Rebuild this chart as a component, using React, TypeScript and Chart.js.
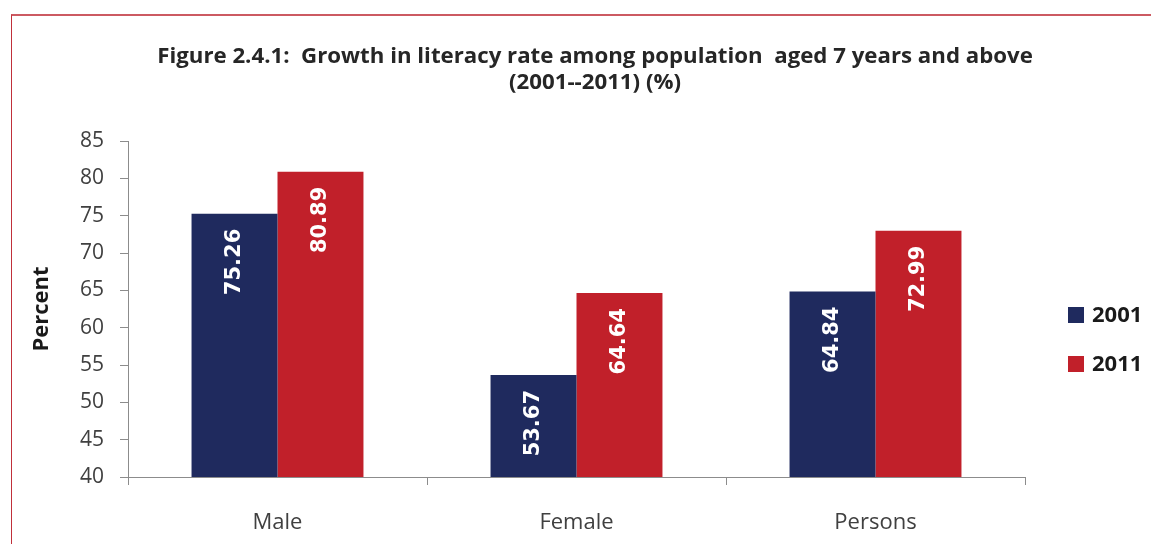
import React, { useEffect, useRef } from "react";
import { Chart, registerables } from "chart.js";

Chart.register(...registerables);

const categories = ["Male", "Female", "Persons"];
const seriesNames = ["2001", "2011"];
const values2001 = [75.26, 53.67, 64.84];
const values2011 = [80.89, 64.64, 72.99];
const seriesColors = ["#1F2A5E", "#C1202A"];
const yMin = 40;
const yMax = 85;
const yStep = 5;
const titleLines = [
  "Figure 2.4.1:  Growth in literacy rate among population  aged 7 years and above",
  "(2001--2011) (%)",
];
const yAxisTitle = "Percent";

const FONT = "'Open Sans', 'Liberation Sans', sans-serif";

const titlePlugin = {
  id: "customTitle",
  afterDraw(chart: any) {
    const ctx = chart.ctx;
    ctx.save();
    ctx.fillStyle = "#262626";
    ctx.textAlign = "center";
    ctx.textBaseline = "alphabetic";
    let size = 20;
    ctx.font = `bold ${size}px ${FONT}`;
    const w = ctx.measureText(titleLines[0]).width;
    size = Math.max(17, Math.min(23, (size * 876) / w));
    ctx.font = `bold ${size}px ${FONT}`;
    ctx.fillText(titleLines[0], 595, 63);
    ctx.fillText(titleLines[1], 595, 89);
    ctx.restore();
  },
};

const legendPlugin = {
  id: "customLegend",
  afterDraw(chart: any) {
    const ctx = chart.ctx;
    ctx.save();
    const ys = [315, 364];
    chart.data.datasets.forEach((ds: any, i: number) => {
      ctx.fillStyle = ds.backgroundColor;
      ctx.fillRect(1068, ys[i] - 8, 16, 16);
      ctx.fillStyle = "#1a1a1a";
      ctx.font = `bold 22px ${FONT}`;
      ctx.textAlign = "left";
      ctx.textBaseline = "middle";
      ctx.fillText(ds.label, 1092, ys[i] + 1);
    });
    ctx.restore();
  },
};

const valueLabelPlugin = {
  id: "valueLabels",
  afterDatasetsDraw(chart: any) {
    const ctx = chart.ctx;
    ctx.save();
    ctx.fillStyle = "#ffffff";
    ctx.font = `bold 21px 'DejaVu Sans', sans-serif`;
    ctx.textAlign = "right";
    ctx.textBaseline = "middle";
    chart.data.datasets.forEach((ds: any, di: number) => {
      const meta = chart.getDatasetMeta(di);
      meta.data.forEach((bar: any, i: number) => {
        ctx.save();
        ctx.translate(bar.x, bar.y + 15);
        ctx.rotate(-Math.PI / 2);
        ctx.fillText(Number(ds.data[i]).toFixed(2), 0, 0);
        ctx.restore();
      });
    });
    ctx.restore();
  },
};

export default function App() {
  const canvasRef = useRef<HTMLCanvasElement | null>(null);

  useEffect(() => {
    if (!canvasRef.current) return;
    const chart = new Chart(canvasRef.current, {
      type: "bar",
      data: {
        labels: categories,
        datasets: [
          {
            label: seriesNames[0],
            data: values2001,
            backgroundColor: seriesColors[0],
            categoryPercentage: 0.575,
            barPercentage: 1,
          },
          {
            label: seriesNames[1],
            data: values2011,
            backgroundColor: seriesColors[1],
            categoryPercentage: 0.575,
            barPercentage: 1,
          },
        ],
      },
      options: {
        animation: false,
        responsive: false,
        maintainAspectRatio: false,
        layout: { padding: { left: 0, right: 126, top: 141, bottom: 0 } },
        plugins: {
          legend: { display: false },
          title: { display: false },
          tooltip: { enabled: false },
        },
        scales: {
          x: {
            offset: true,
            grid: {
              offset: true,
              drawOnChartArea: false,
              drawTicks: true,
              tickLength: 8,
              color: "#8c8c8c",
            },
            border: { display: true, color: "#8c8c8c", width: 1 },
            ticks: {
              color: "#404040",
              font: { family: FONT, size: 22 },
              padding: 25,
            },
            afterFit(scale: any) {
              scale.height = 67;
            },
          },
          y: {
            min: yMin,
            max: yMax,
            ticks: {
              stepSize: yStep,
              color: "#404040",
              font: { family: FONT, size: 21 },
              padding: 16,
            },
            grid: {
              drawOnChartArea: false,
              drawTicks: true,
              tickLength: 8,
              color: "#8c8c8c",
            },
            border: { display: true, color: "#8c8c8c", width: 1 },
            title: {
              display: true,
              text: yAxisTitle,
              color: "#1a1a1a",
              font: { family: FONT, size: 22, weight: "bold" },
              padding: { top: 29, bottom: 0 },
            },
            afterFit(scale: any) {
              scale.width = 128;
            },
          },
        },
      },
      plugins: [valueLabelPlugin, titlePlugin, legendPlugin],
    });
    return () => chart.destroy();
  }, []);

  return (
    <div style={{ position: "absolute", left: 0, top: 0, width: 1151, height: 544, background: "#ffffff", overflow: "hidden" }}>
      <div
        style={{
          position: "absolute",
          left: 11,
          top: 14,
          width: 1200,
          height: 600,
          borderTop: "2px solid #CC5A62",
          borderLeft: "1px solid #C0303A",
          boxSizing: "border-box",
        }}
      />
      <canvas
        ref={canvasRef}
        width={1151}
        height={544}
        style={{ position: "absolute", left: 0, top: 0, width: 1151, height: 544 }}
      />
    </div>
  );
}
